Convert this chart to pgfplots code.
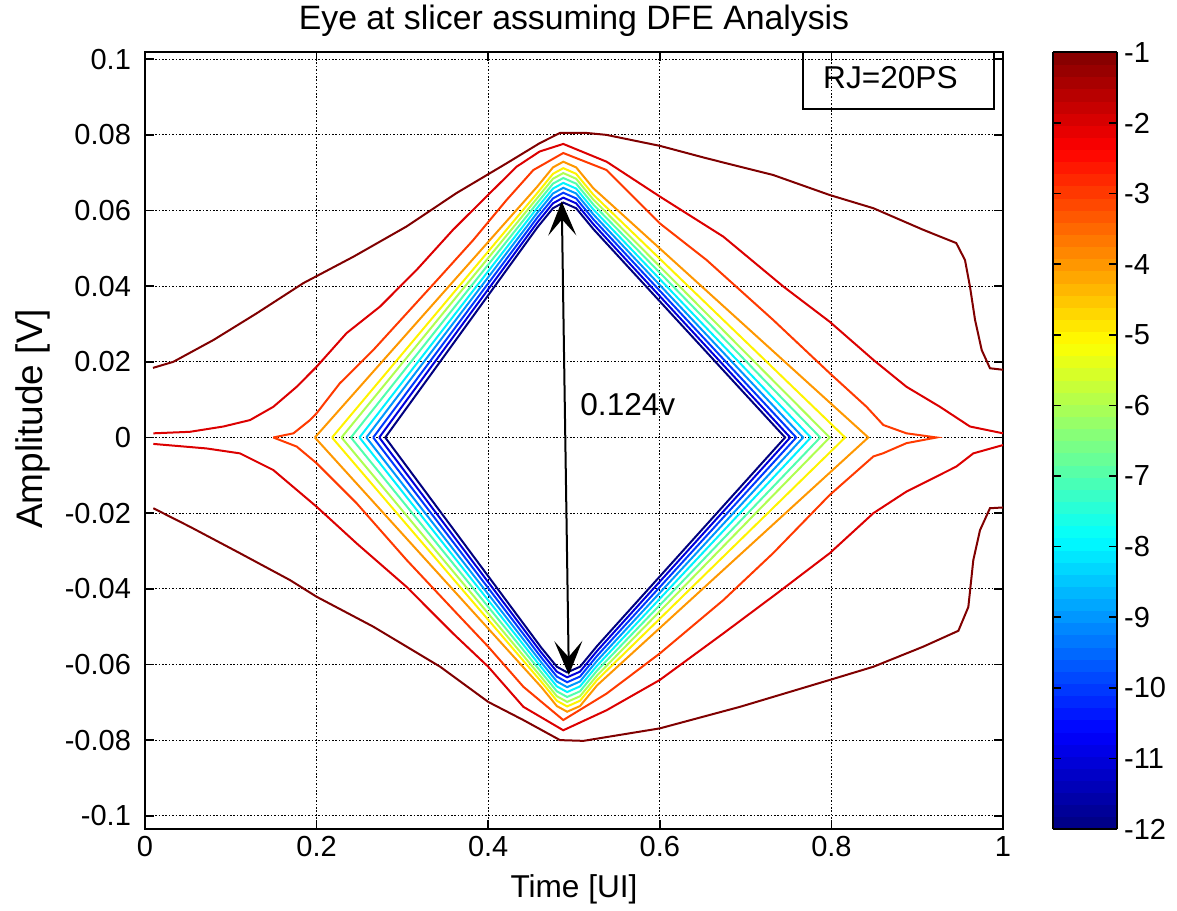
\documentclass[border=0pt]{standalone}
\usepackage{pgfplots}
\pgfplotsset{compat=1.18}
\usetikzlibrary{arrows.meta}
\usepackage{fontspec}
\setmainfont{Liberation Sans}
\definecolor{c1}{RGB}{128,0,0}
\definecolor{c2}{RGB}{220,0,0}
\definecolor{c3}{RGB}{255,58,0}
\definecolor{c4}{RGB}{255,151,0}
\definecolor{c5}{RGB}{255,243,0}
\definecolor{c6}{RGB}{174,255,81}
\definecolor{c7}{RGB}{81,255,174}
\definecolor{c8}{RGB}{0,243,255}
\definecolor{c9}{RGB}{0,151,255}
\definecolor{c10}{RGB}{0,58,255}
\definecolor{c11}{RGB}{0,0,220}
\definecolor{c12}{RGB}{0,0,128}
\newcommand{\tickfont}{\fontsize{14.5}{17}\selectfont}
\newcommand{\labfont}{\fontsize{15.8}{19}\selectfont}
\begin{document}
\begin{tikzpicture}
\useasboundingbox (-72.5pt,-40.5pt) rectangle (516pt,414.5pt);
\begin{axis}[name=ax, at={(0,0)}, anchor=south west,
  scale only axis, width=429pt, height=388.3pt,
  xmin=0, xmax=1, ymin=-0.1035, ymax=0.1018,
  xtick={0,0.2,0.4,0.6,0.8,1},
  xticklabels={0,0.2,0.4,0.6,0.8,1},
  ytick={-0.1,-0.08,-0.06,-0.04,-0.02,0,0.02,0.04,0.06,0.08,0.1},
  yticklabels={-0.1,-0.08,-0.06,-0.04,-0.02,0,0.02,0.04,0.06,0.08,0.1},
  scaled y ticks=false, scaled x ticks=false,
  grid=major,
  major grid style={black, line width=0.6pt, dash pattern=on 0.8pt off 0.9pt},
  tick align=inside, major tick length=4.5pt,
  tick style={black, line width=0.8pt},
  axis line style={line width=1pt},
  ticklabel style={font=\tickfont},
  yticklabel style={xshift=-3.5pt},
  title={Eye at slicer assuming DFE Analysis},
  title style={font=\fontsize{16.9}{20}\selectfont, at={(0.5,1)}, anchor=base, yshift=5.3pt},
  xlabel={Time [UI]},
  xlabel style={font=\labfont, at={(0.5,0)}, anchor=base, yshift=-34pt},
  ylabel={Amplitude [V]},
  ylabel style={font=\fontsize{18.5}{22}\selectfont, at={(-0.1305,0.528)}, anchor=center},
  colormap/jet, point meta min=-12, point meta max=-1,
  colorbar sampled,
  colorbar style={samples=65, at={(parent axis.north east)}, anchor=north west, xshift=16.5pt,
    scale only axis, width=32pt, height=388.3pt,
    ytick={-12,-11,-10,-9,-8,-7,-6,-5,-4,-3,-2,-1},
    yticklabels={-12,-11,-10,-9,-8,-7,-6,-5,-4,-3,-2,-1},
    yticklabel pos=right, ytick pos=both,
    yticklabel style={font=\tickfont},
    axis line style={line width=1pt},
    tick style={black, line width=0.8pt},
    major tick length=4pt},
  every axis plot/.append style={line width=1pt},
]
% level -1
\addplot[c1] coordinates {(0.0093,0.0184) (0.033,0.0200) (0.080,0.0258) (0.130,0.0328) (0.1845,0.0408) (0.243,0.0478) (0.305,0.0558) (0.363,0.0646) (0.4216,0.0725) (0.460,0.0778) (0.4837,0.0805) (0.5148,0.0805) (0.5376,0.0800) (0.600,0.0771) (0.6546,0.0738) (0.732,0.0694) (0.798,0.0641) (0.849,0.0606) (0.907,0.0549) (0.9455,0.0514) (0.9557,0.0469) (0.9615,0.0399) (0.9674,0.0311) (0.9752,0.0231) (0.9848,0.0183) (1.0,0.0179)};
\addplot[c1] coordinates {(0.0097,-0.0187) (0.0524,-0.0236) (0.1107,-0.0306) (0.169,-0.0377) (0.200,-0.0421) (0.266,-0.0500) (0.344,-0.0606) (0.400,-0.0699) (0.441,-0.0747) (0.4837,-0.0800) (0.511,-0.0802) (0.600,-0.0769) (0.6935,-0.0712) (0.798,-0.0641) (0.849,-0.0606) (0.907,-0.0553) (0.948,-0.0511) (0.9596,-0.0448) (0.9654,-0.0324) (0.9732,-0.0245) (0.9848,-0.0187) (1.0,-0.0185)};
% level -2
\addplot[c2] coordinates {(0.0097,0.0011) (0.0524,0.0015) (0.0913,0.0029) (0.1224,0.0046) (0.1495,0.0081) (0.1768,0.0134) (0.200,0.0187) (0.235,0.0276) (0.2739,0.0346) (0.3166,0.0443) (0.359,0.0549) (0.398,0.0637) (0.4332,0.0716) (0.460,0.0756) (0.4875,0.0776) (0.538,0.0729) (0.600,0.0637) (0.674,0.0531) (0.744,0.0399) (0.798,0.0306) (0.849,0.0205) (0.8875,0.0134) (0.9266,0.0081) (0.9615,0.0029) (1.0,0.0011)};
\addplot[c2] coordinates {(0.0097,-0.0017) (0.0718,-0.0029) (0.1107,-0.0042) (0.1495,-0.0086) (0.200,-0.0183) (0.2467,-0.0280) (0.3049,-0.0395) (0.359,-0.0518) (0.400,-0.0606) (0.441,-0.0712) (0.4875,-0.0774) (0.538,-0.0721) (0.600,-0.0641) (0.674,-0.0518) (0.7366,-0.0412) (0.798,-0.0306) (0.849,-0.0200) (0.8875,-0.0143) (0.9455,-0.0077) (0.9654,-0.0042) (1.0,-0.0020)};
% level -3
\addplot[c3] coordinates {(0.1495,0) (0.173,0.0011) (0.1923,0.0046) (0.200,0.0064) (0.227,0.0143) (0.266,0.0231) (0.305,0.0328) (0.344,0.0425) (0.3826,0.0522) (0.4215,0.0628) (0.4526,0.0707) (0.4875,0.0752) (0.538,0.0707) (0.600,0.0566) (0.6546,0.0469) (0.732,0.0311) (0.798,0.0170) (0.841,0.0081) (0.8605,0.0033) (0.8875,0.0011) (0.9226,0) (0.8875,-0.0015) (0.860,-0.0042) (0.849,-0.0050) (0.798,-0.0152) (0.732,-0.0306) (0.674,-0.0430) (0.600,-0.0571) (0.538,-0.0677) (0.4875,-0.0747) (0.441,-0.0659) (0.400,-0.0553) (0.3633,-0.0465) (0.305,-0.0324) (0.2467,-0.0174) (0.200,-0.0068) (0.1768,-0.0024) (0.1495,0)};
% level -4
\addplot[c4] coordinates {(0.198,0) (0.4575,0.0664) (0.4755,0.0714) (0.4875,0.0729) (0.5025,0.0714) (0.5225,0.0659) (0.843,0) (0.527,-0.0655) (0.507,-0.0710) (0.492,-0.0725) (0.480,-0.0710) (0.462,-0.0660) (0.198,0)};
% level -5
\addplot[c5] coordinates {(0.218,0) (0.4575,0.0647) (0.4755,0.0697) (0.4875,0.0712) (0.5025,0.0697) (0.5225,0.0642) (0.816,0) (0.527,-0.0641) (0.507,-0.0696) (0.492,-0.0711) (0.480,-0.0696) (0.462,-0.0646) (0.218,0)};
% level -6
\addplot[c6] coordinates {(0.229,0) (0.4575,0.0634) (0.4755,0.0684) (0.4875,0.0699) (0.5025,0.0684) (0.5225,0.0629) (0.798,0) (0.527,-0.0629) (0.507,-0.0684) (0.492,-0.0699) (0.480,-0.0684) (0.462,-0.0634) (0.229,0)};
% level -7
\addplot[c7] coordinates {(0.240,0) (0.4575,0.0621) (0.4755,0.0671) (0.4875,0.0686) (0.5025,0.0671) (0.5225,0.0616) (0.787,0) (0.527,-0.0616) (0.507,-0.0671) (0.492,-0.0686) (0.480,-0.0671) (0.462,-0.0621) (0.240,0)};
% level -8
\addplot[c8] coordinates {(0.250,0) (0.4575,0.0608) (0.4755,0.0658) (0.4875,0.0673) (0.5025,0.0658) (0.5225,0.0603) (0.776,0) (0.527,-0.0603) (0.507,-0.0658) (0.492,-0.0673) (0.480,-0.0658) (0.462,-0.0608) (0.250,0)};
% level -9
\addplot[c9] coordinates {(0.258,0) (0.4575,0.0595) (0.4755,0.0645) (0.4875,0.0660) (0.5025,0.0645) (0.5225,0.0590) (0.767,0) (0.527,-0.0590) (0.507,-0.0645) (0.492,-0.0660) (0.480,-0.0645) (0.462,-0.0595) (0.258,0)};
% level -10
\addplot[c10] coordinates {(0.266,0) (0.4575,0.0582) (0.4755,0.0632) (0.4875,0.0647) (0.5025,0.0632) (0.5225,0.0577) (0.759,0) (0.527,-0.0577) (0.507,-0.0632) (0.492,-0.0647) (0.480,-0.0632) (0.462,-0.0582) (0.266,0)};
% level -11
\addplot[c11] coordinates {(0.273,0) (0.4575,0.0569) (0.4755,0.0619) (0.4875,0.0634) (0.5025,0.0619) (0.5225,0.0564) (0.752,0) (0.527,-0.0564) (0.507,-0.0619) (0.492,-0.0634) (0.480,-0.0619) (0.462,-0.0569) (0.273,0)};
% level -12
\addplot[c12] coordinates {(0.280,0) (0.4575,0.0556) (0.4755,0.0606) (0.4875,0.0621) (0.5025,0.0606) (0.5225,0.0551) (0.746,0) (0.527,-0.0551) (0.507,-0.0606) (0.492,-0.0621) (0.480,-0.0606) (0.462,-0.0556) (0.280,0)};
% annotations
\draw[black, line width=1pt, {Stealth[length=17pt,width=14pt,inset=8pt]}-{Stealth[length=17pt,width=14pt,inset=8pt]}] (axis cs:0.4857,0.0624) -- (axis cs:0.494,-0.0628);
\node[anchor=west, inner sep=0pt, font=\labfont] at (axis cs:0.507,0.0086) {0.124v};
\draw[black, line width=1pt] (axis cs:0.767,0.1018) rectangle (axis cs:0.9895,0.0869);
\node[anchor=west, inner sep=0pt, font=\labfont] at (axis cs:0.790,0.0951) {RJ=20PS};
\end{axis}
\end{tikzpicture}
\end{document}
